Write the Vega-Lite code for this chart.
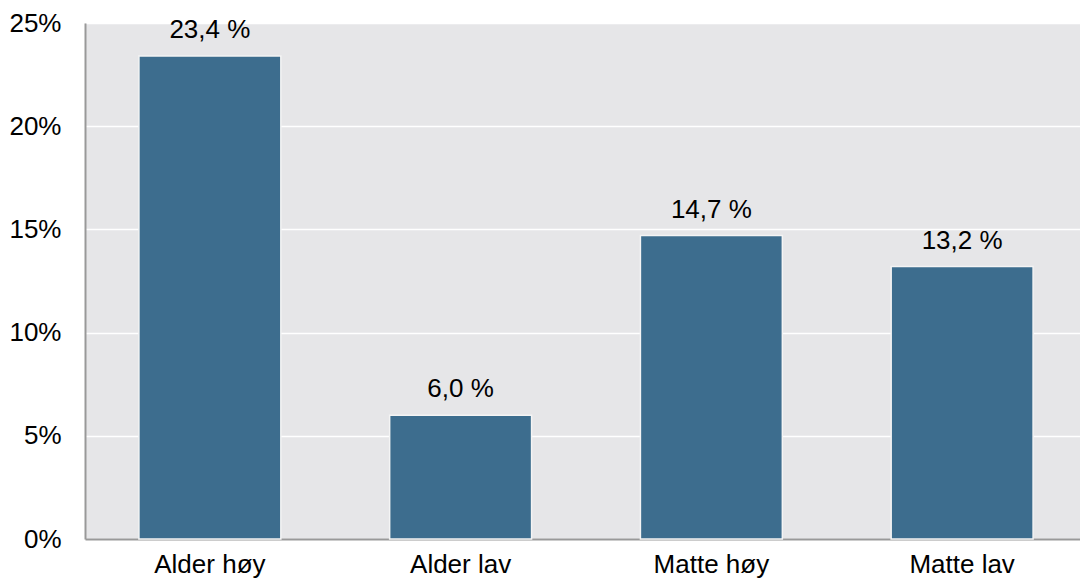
{
  "$schema": "https://vega.github.io/schema/vega-lite/v6.json",
  "width": 995,
  "height": 516,
  "autosize": "none",
  "padding": {"left": 85, "top": 23, "right": 0, "bottom": 44},
  "background": "white",
  "config": {
    "view": {"fill": "#e6e6e8", "stroke": null},
    "font": "Liberation Sans"
  },
  "data": {
    "values": [
      {"gruppe": "Alder høy", "andel": 23.4, "label": "23,4 %"},
      {"gruppe": "Alder lav", "andel": 6.0, "label": "6,0 %"},
      {"gruppe": "Matte høy", "andel": 14.7, "label": "14,7 %"},
      {"gruppe": "Matte lav", "andel": 13.2, "label": "13,2 %"}
    ]
  },
  "encoding": {
    "x": {
      "field": "gruppe",
      "type": "nominal",
      "sort": null,
      "scale": {"paddingInner": 0.434, "paddingOuter": 0.215, "range": [0, 1002]},
      "axis": {
        "title": null,
        "labelAngle": 0,
        "labelFont": "Liberation Sans",
        "labelFontSize": 26,
        "labelColor": "#000000",
        "labelPadding": 12,
        "ticks": false,
        "domainColor": "#999999",
        "domainWidth": 2,
        "grid": false
      }
    },
    "y": {
      "field": "andel",
      "type": "quantitative",
      "scale": {"domain": [0, 25], "nice": false},
      "axis": {
        "title": null,
        "values": [0, 5, 10, 15, 20, 25],
        "labelExpr": "datum.value + '%'",
        "labelFont": "Liberation Sans",
        "labelFontSize": 26,
        "labelColor": "#000000",
        "labelPadding": 24,
        "ticks": false,
        "domainColor": "#999999",
        "domainWidth": 2,
        "gridColor": "#ffffff",
        "gridWidth": 1.5
      }
    }
  },
  "layer": [
    {
      "mark": {"type": "bar", "color": "#3d6d8e", "stroke": "#f4f4f4", "strokeWidth": 1.5}
    },
    {
      "mark": {"type": "text", "baseline": "alphabetic", "dy": -18, "fontSize": 26, "font": "Liberation Sans", "color": "#000000"},
      "encoding": {"text": {"field": "label"}}
    }
  ]
}
